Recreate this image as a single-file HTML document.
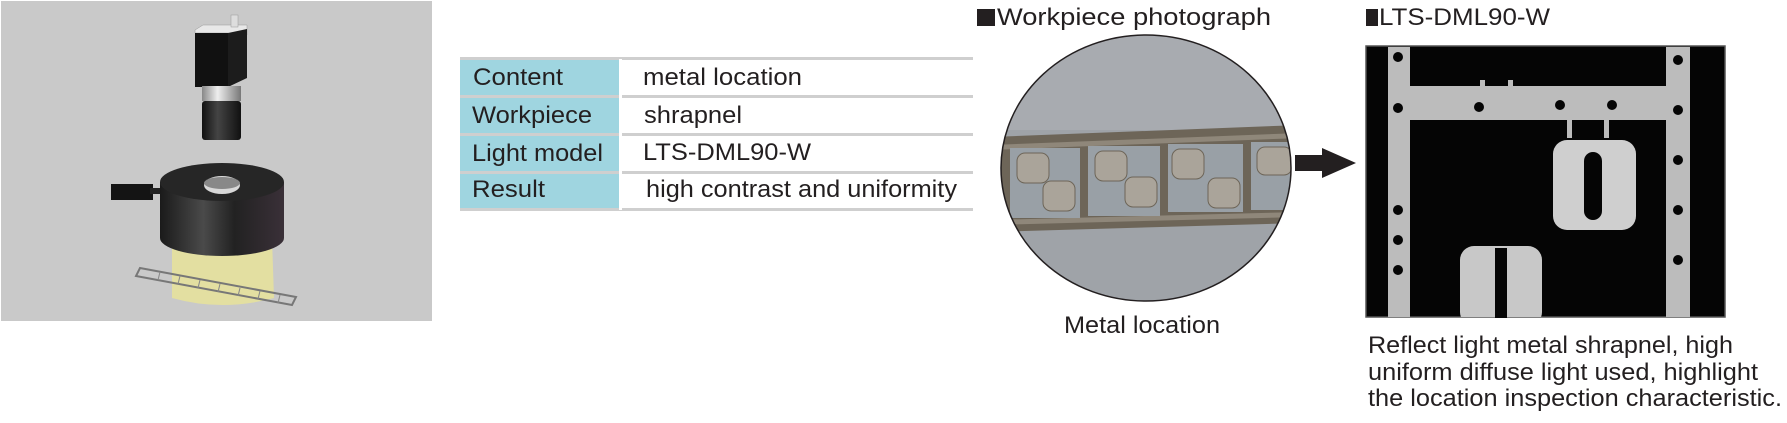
<!DOCTYPE html>
<html><head><meta charset="utf-8"><style>
html,body{margin:0;padding:0;background:#fff;}
svg{display:block;}
text{font-family:"Liberation Sans Narrow","Liberation Sans",sans-serif;fill:#231f20;}
</style></head><body>
<svg width="1787" height="423" viewBox="0 0 1787 423" xmlns="http://www.w3.org/2000/svg">
<defs>
<linearGradient id="cyl" x1="0" x2="1" y1="0" y2="0">
<stop offset="0" stop-color="#1a1a1a"/><stop offset="0.35" stop-color="#4a4a4a"/><stop offset="0.6" stop-color="#222"/><stop offset="1" stop-color="#3a3038"/>
</linearGradient>
<linearGradient id="lens" x1="0" x2="1"><stop offset="0" stop-color="#111"/><stop offset="0.4" stop-color="#444"/><stop offset="1" stop-color="#111"/></linearGradient>
<linearGradient id="silver" x1="0" x2="1"><stop offset="0" stop-color="#888"/><stop offset="0.4" stop-color="#eee"/><stop offset="1" stop-color="#777"/></linearGradient>
<clipPath id="circ"><ellipse cx="1146" cy="168" rx="145" ry="133"/></clipPath>
<clipPath id="photo"><rect x="1367" y="47" width="358" height="270"/></clipPath>
</defs>

<!-- left panel -->
<rect x="1" y="1" width="431" height="320" fill="#c9c9c9"/>
<!-- camera -->
<polygon points="195,30 203,25 247,25 247,35 235,35 228,33 195,33" fill="#e8e8e8" stroke="#999" stroke-width="0.5"/>
<rect x="231" y="15" width="7" height="12" fill="#ddd" stroke="#999" stroke-width="0.5"/>
<rect x="195" y="33" width="33" height="54" fill="#111"/>
<polygon points="228,33 247,29 247,78 228,87" fill="#1c1c1c"/>
<rect x="202" y="86" width="39" height="15" fill="url(#silver)"/>
<rect x="202" y="101" width="39" height="39" rx="3" fill="url(#lens)"/>
<!-- beam -->
<path d="M172,238 L272,238 L274,298 Q222,312 172,298 Z" fill="#e7e39a" opacity="0.85"/>
<!-- strip -->
<polygon points="140,268 296,297 292,305 136,276" fill="none" stroke="#777" stroke-width="2"/>
<g stroke="#888" stroke-width="1">
<line x1="160" y1="272" x2="158" y2="280"/><line x1="180" y1="276" x2="178" y2="284"/><line x1="200" y1="280" x2="198" y2="288"/><line x1="220" y1="284" x2="218" y2="292"/><line x1="240" y1="288" x2="238" y2="296"/><line x1="260" y1="291" x2="258" y2="299"/><line x1="280" y1="295" x2="278" y2="303"/>
</g>
<!-- ring light -->
<rect x="111" y="184" width="42" height="16" fill="#141414"/>
<rect x="150" y="188" width="12" height="6" fill="#222"/>
<path d="M160,182 L160,238 A62,18 0 0 0 284,238 L284,182 Z" fill="url(#cyl)"/>
<ellipse cx="222" cy="182" rx="62" ry="19" fill="#262626"/>
<ellipse cx="222" cy="185" rx="18" ry="9" fill="#d8d8d8"/>
<ellipse cx="222" cy="183" rx="18" ry="6" fill="#888"/>

<!-- table -->
<rect x="460" y="59" width="159" height="151" fill="#9fd5e0"/>
<g fill="#cfcfcf">
<rect x="460" y="57" width="513" height="3"/>
<rect x="460" y="95" width="513" height="3"/>
<rect x="460" y="133" width="513" height="3"/>
<rect x="460" y="171" width="513" height="3"/>
<rect x="460" y="208" width="513" height="3"/>
<rect x="619" y="59" width="3" height="151" fill="#fff"/>
</g>
<g font-size="24">
<text x="473" y="85" textLength="90" lengthAdjust="spacingAndGlyphs">Content</text>
<text x="472" y="123" textLength="120" lengthAdjust="spacingAndGlyphs">Workpiece</text>
<text x="472" y="161" textLength="131" lengthAdjust="spacingAndGlyphs">Light model</text>
<text x="472" y="197" textLength="73" lengthAdjust="spacingAndGlyphs">Result</text>
<text x="643" y="85" textLength="159" lengthAdjust="spacingAndGlyphs">metal location</text>
<text x="644" y="123" textLength="98" lengthAdjust="spacingAndGlyphs">shrapnel</text>
<text x="643" y="160" textLength="168" lengthAdjust="spacingAndGlyphs">LTS-DML90-W</text>
<text x="646" y="197" textLength="311" lengthAdjust="spacingAndGlyphs">high contrast and uniformity</text>
</g>

<!-- workpiece photo -->
<rect x="977" y="9" width="18" height="17" fill="#231f20"/>
<text x="997" y="25" font-size="24" textLength="274" lengthAdjust="spacingAndGlyphs">Workpiece photograph</text>
<g clip-path="url(#circ)">
<rect x="990" y="30" width="310" height="280" fill="#9fa3a8"/>
<rect x="990" y="30" width="310" height="100" fill="#a8abb0"/>
<polygon points="990,137 1300,125 1300,223 990,232" fill="#6d6558"/>
<polygon points="990,145 1300,133 1300,138 990,150" fill="#8f877a"/>
<polygon points="990,220 1300,212 1300,217 990,225" fill="#8f877a"/>
<g fill="#99a0a6">
<rect x="1010" y="148" width="70" height="70"/>
<rect x="1088" y="146" width="72" height="70"/>
<rect x="1168" y="144" width="75" height="68"/>
<rect x="1251" y="142" width="45" height="68"/>
</g>
<g fill="#aaa49a" stroke="#6d6558" stroke-width="1">
<rect x="1017" y="153" width="32" height="30" rx="8"/>
<rect x="1043" y="181" width="32" height="30" rx="8"/>
<rect x="1095" y="151" width="32" height="30" rx="8"/>
<rect x="1125" y="177" width="32" height="30" rx="8"/>
<rect x="1172" y="149" width="32" height="30" rx="8"/>
<rect x="1208" y="178" width="32" height="30" rx="8"/>
<rect x="1257" y="147" width="35" height="28" rx="8"/>
</g>
</g>
<ellipse cx="1146" cy="168" rx="145" ry="133" fill="none" stroke="#231f20" stroke-width="1.5"/>
<text x="1064" y="333" font-size="24" textLength="156" lengthAdjust="spacingAndGlyphs">Metal location</text>

<!-- arrow -->
<polygon points="1295,155 1322,155 1322,148 1356,163 1322,178 1322,171 1295,171" fill="#231f20"/>

<!-- result image -->
<rect x="1366" y="9" width="12" height="17" fill="#231f20"/>
<text x="1379" y="25" font-size="24" textLength="171" lengthAdjust="spacingAndGlyphs">LTS-DML90-W</text>
<rect x="1366" y="46" width="359" height="271" fill="#050505" stroke="#555" stroke-width="1.5"/>
<g clip-path="url(#photo)" fill="#bcbcbc">
<rect x="1388" y="47" width="22" height="270"/>
<rect x="1666" y="47" width="24" height="270"/>
<rect x="1388" y="86" width="302" height="34"/>
<rect x="1480" y="80" width="5" height="8"/><rect x="1508" y="80" width="5" height="8"/>
<rect x="1567" y="120" width="5" height="18"/><rect x="1604" y="120" width="5" height="18"/>
<rect x="1553" y="140" width="83" height="90" rx="14" fill="#cfcfcf"/>
<rect x="1460" y="246" width="82" height="80" rx="14" fill="#c8c8c8"/>
</g>
<g fill="#050505">
<rect x="1584" y="152" width="18" height="68" rx="9"/>
<rect x="1495" y="248" width="12" height="70"/>
<circle cx="1398" cy="57" r="5"/><circle cx="1398" cy="108" r="5"/><circle cx="1398" cy="210" r="5"/><circle cx="1398" cy="240" r="5"/><circle cx="1398" cy="270" r="5"/>
<circle cx="1678" cy="60" r="5"/><circle cx="1678" cy="110" r="5"/><circle cx="1678" cy="160" r="5"/><circle cx="1678" cy="210" r="5"/><circle cx="1678" cy="260" r="5"/>
<circle cx="1479" cy="107" r="5"/><circle cx="1560" cy="105" r="5"/><circle cx="1612" cy="105" r="5"/>
</g>
<g font-size="24">
<text x="1368" y="353" textLength="365" lengthAdjust="spacingAndGlyphs">Reflect light metal shrapnel, high</text>
<text x="1368" y="380" textLength="390" lengthAdjust="spacingAndGlyphs">uniform diffuse light used, highlight</text>
<text x="1368" y="406" textLength="414" lengthAdjust="spacingAndGlyphs">the location inspection characteristic.</text>
</g>
</svg>
</body></html>
